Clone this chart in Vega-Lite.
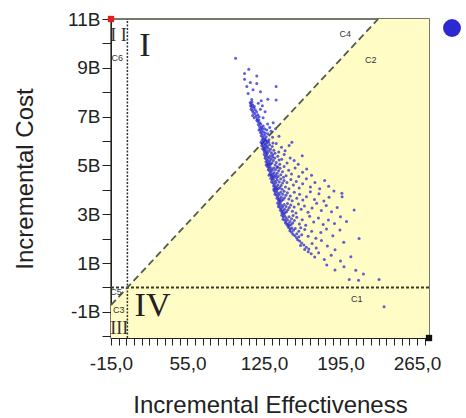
{
  "$schema": "https://vega.github.io/schema/vega-lite/v6.json",
  "width": 318,
  "height": 319,
  "autosize": {"type": "none"},
  "padding": {"left": 111, "top": 19, "right": 37, "bottom": 80},
  "background": "white",
  "config": {
    "view": {"stroke": "#4a4f3c", "strokeWidth": 1.5},
    "axis": {
      "labelFont": "Liberation Sans",
      "titleFont": "Liberation Sans",
      "labelFontSize": 19,
      "titleFontSize": 24,
      "titleFontWeight": "normal",
      "labelColor": "#222",
      "titleColor": "#222",
      "domainColor": "#222",
      "tickColor": "#222",
      "grid": false,
      "labelOverlap": false,
      "labelFlush": false,
      "labelBound": false
    }
  },
  "datasets": {
    "region": [
      {"x": -15, "y": -0.72},
      {"x": 229.5, "y": 11},
      {"x": 276, "y": 11}
    ],
    "pts": [
      {"x":99,"y":9.39},{"x":107.2,"y":8.77},{"x":111.1,"y":8.94},{"x":118.4,"y":8.66},{"x":107.2,"y":8.53},{"x":118.4,"y":8.36},{"x":109.3,"y":8.23},{"x":136.1,"y":8.23},{"x":121.8,"y":8.02},{"x":136.1,"y":7.68},{"x":128.5,"y":7.71},{"x":112.5,"y":8.4},{"x":115,"y":8.1},{"x":110.5,"y":7.95},
      {"x":112.4,"y":7.58},{"x":113.1,"y":7.52},{"x":114,"y":7.6},{"x":112.8,"y":7.45},{"x":113.6,"y":7.4},{"x":114.8,"y":7.48},{"x":115.5,"y":7.35},{"x":113.2,"y":7.3},{"x":114.3,"y":7.25},{"x":116.2,"y":7.42},{"x":117,"y":7.28},{"x":115.1,"y":7.18},{"x":116.5,"y":7.12},{"x":118.2,"y":7.2},{"x":114.6,"y":7.05},{"x":117.6,"y":7.02},{"x":119.3,"y":7.08},{"x":116,"y":6.95},{"x":118.8,"y":6.92},{"x":120.5,"y":7},{"x":121.7,"y":7.3},{"x":123.5,"y":7.45},{"x":126,"y":7.2},{"x":124.2,"y":6.95},{"x":113.8,"y":7.7},{"x":119.8,"y":7.55},{"x":122.5,"y":7.65},
      {"x":118.5,"y":6.85},{"x":119.4,"y":6.8},{"x":120.3,"y":6.86},{"x":121.1,"y":6.75},{"x":119.8,"y":6.68},{"x":120.9,"y":6.6},{"x":122,"y":6.7},{"x":122.8,"y":6.58},{"x":121.5,"y":6.5},{"x":120.4,"y":6.45},{"x":122.6,"y":6.42},{"x":123.5,"y":6.5},{"x":124.3,"y":6.62},{"x":121.8,"y":6.35},{"x":123.1,"y":6.3},{"x":124.5,"y":6.38},{"x":125.6,"y":6.5},{"x":122.4,"y":6.22},{"x":123.8,"y":6.16},{"x":125.1,"y":6.24},{"x":126.2,"y":6.32},{"x":127.5,"y":6.45},{"x":124.4,"y":6.08},{"x":125.9,"y":6.1},{"x":127,"y":6.18},{"x":128.6,"y":6.3},{"x":130.2,"y":6.55},{"x":131.5,"y":6.4},{"x":133.4,"y":6.75},{"x":135.6,"y":6.5},{"x":138.7,"y":6.2},{"x":129.5,"y":6.05},{"x":126.7,"y":6.02},{"x":123.2,"y":6.04},{"x":128.3,"y":6.7},{"x":132.8,"y":6.15},
      {"x":122.3,"y":5.95},{"x":123.4,"y":5.9},{"x":124.6,"y":5.97},{"x":125.5,"y":5.88},{"x":123,"y":5.82},{"x":124.2,"y":5.78},{"x":126.3,"y":5.85},{"x":127.4,"y":5.92},{"x":125.1,"y":5.72},{"x":126.6,"y":5.75},{"x":128,"y":5.8},{"x":123.7,"y":5.68},{"x":124.9,"y":5.62},{"x":126,"y":5.66},{"x":127.3,"y":5.6},{"x":128.8,"y":5.7},{"x":130.1,"y":5.85},{"x":125.4,"y":5.55},{"x":126.8,"y":5.52},{"x":128.1,"y":5.5},{"x":129.6,"y":5.58},{"x":131,"y":5.66},{"x":132.5,"y":5.78},{"x":134,"y":5.62},{"x":136.2,"y":5.9},{"x":138.5,"y":5.55},{"x":141,"y":5.75},{"x":144.3,"y":5.6},{"x":148,"y":5.82},{"x":150.5,"y":5.95},{"x":129.2,"y":5.95},{"x":131.8,"y":5.52},{"x":135.1,"y":5.5},{"x":127.8,"y":5.98},{"x":133.2,"y":5.92},
      {"x":125.2,"y":5.45},{"x":126.4,"y":5.38},{"x":127.5,"y":5.44},{"x":128.6,"y":5.35},{"x":126,"y":5.3},{"x":127.2,"y":5.25},{"x":128.4,"y":5.2},{"x":129.7,"y":5.3},{"x":130.8,"y":5.4},{"x":126.8,"y":5.15},{"x":128,"y":5.08},{"x":129.3,"y":5.12},{"x":130.5,"y":5.18},{"x":131.6,"y":5.26},{"x":132.9,"y":5.35},{"x":128.7,"y":5.02},{"x":130,"y":5.04},{"x":131.2,"y":5.06},{"x":132.4,"y":5.1},{"x":133.6,"y":5.2},{"x":134.9,"y":5.3},{"x":136.2,"y":5.12},{"x":137.6,"y":5.38},{"x":139.4,"y":5.05},{"x":141.2,"y":5.25},{"x":143.5,"y":5.45},{"x":146.1,"y":5.1},{"x":149,"y":5.3},{"x":152.6,"y":5.2},{"x":156.3,"y":5.05},{"x":160,"y":5.4},{"x":135.3,"y":5.02},{"x":133,"y":5.44},{"x":138.8,"y":5.22},{"x":127,"y":5.02},
      {"x":128.2,"y":4.96},{"x":129.4,"y":4.9},{"x":130.5,"y":4.95},{"x":131.6,"y":4.86},{"x":128.9,"y":4.82},{"x":130.1,"y":4.78},{"x":131.3,"y":4.72},{"x":132.6,"y":4.8},{"x":133.8,"y":4.9},{"x":130.4,"y":4.66},{"x":131.7,"y":4.6},{"x":133,"y":4.64},{"x":134.3,"y":4.7},{"x":135.5,"y":4.82},{"x":136.8,"y":4.92},{"x":131.9,"y":4.54},{"x":133.2,"y":4.52},{"x":134.5,"y":4.56},{"x":135.8,"y":4.6},{"x":137.1,"y":4.68},{"x":138.4,"y":4.78},{"x":139.7,"y":4.88},{"x":136.4,"y":4.5},{"x":138,"y":4.55},{"x":140.3,"y":4.62},{"x":141.9,"y":4.74},{"x":143.4,"y":4.96},{"x":145.2,"y":4.58},{"x":147.6,"y":4.8},{"x":150.2,"y":4.65},{"x":153.5,"y":4.9},{"x":156.8,"y":4.55},{"x":160.3,"y":4.72},{"x":164.1,"y":4.85},{"x":168.5,"y":4.6},{"x":129.6,"y":4.6},{"x":137.5,"y":4.95},{"x":142.8,"y":4.52},
      {"x":131.2,"y":4.46},{"x":132.4,"y":4.4},{"x":133.6,"y":4.45},{"x":134.8,"y":4.36},{"x":132,"y":4.32},{"x":133.3,"y":4.28},{"x":134.6,"y":4.22},{"x":135.9,"y":4.3},{"x":137.2,"y":4.4},{"x":133.8,"y":4.16},{"x":135.1,"y":4.1},{"x":136.4,"y":4.14},{"x":137.7,"y":4.2},{"x":139,"y":4.32},{"x":140.3,"y":4.44},{"x":135.5,"y":4.04},{"x":136.8,"y":4.02},{"x":138.1,"y":4.06},{"x":139.4,"y":4.1},{"x":140.7,"y":4.18},{"x":142,"y":4.28},{"x":143.3,"y":4.38},{"x":144.6,"y":4.12},{"x":146,"y":4.3},{"x":147.8,"y":4.05},{"x":149.6,"y":4.42},{"x":151.9,"y":4.2},{"x":154.5,"y":4.34},{"x":157.2,"y":4.08},{"x":160.4,"y":4.25},{"x":163.8,"y":4.45},{"x":167.5,"y":4.12},{"x":171.6,"y":4.3},{"x":176,"y":4.05},{"x":180.5,"y":4.38},{"x":184.2,"y":4.15},{"x":141.5,"y":4.02},{"x":134,"y":4.02},
      {"x":134.3,"y":3.96},{"x":135.5,"y":3.9},{"x":136.7,"y":3.95},{"x":137.9,"y":3.86},{"x":135.1,"y":3.82},{"x":136.4,"y":3.78},{"x":137.7,"y":3.72},{"x":139,"y":3.8},{"x":140.3,"y":3.9},{"x":136.9,"y":3.66},{"x":138.2,"y":3.6},{"x":139.5,"y":3.64},{"x":140.8,"y":3.7},{"x":142.1,"y":3.82},{"x":143.4,"y":3.94},{"x":138.6,"y":3.54},{"x":139.9,"y":3.52},{"x":141.2,"y":3.56},{"x":142.5,"y":3.6},{"x":143.8,"y":3.68},{"x":145.1,"y":3.78},{"x":146.4,"y":3.88},{"x":147.7,"y":3.62},{"x":149.1,"y":3.75},{"x":150.8,"y":3.55},{"x":152.7,"y":3.9},{"x":155,"y":3.66},{"x":157.6,"y":3.82},{"x":160.5,"y":3.58},{"x":163.9,"y":3.72},{"x":167.4,"y":3.92},{"x":171.2,"y":3.6},{"x":175.3,"y":3.84},{"x":179.8,"y":3.54},{"x":184.5,"y":3.7},{"x":189,"y":3.95},{"x":196.3,"y":3.86},{"x":196.5,"y":3.72},
      {"x":137.4,"y":3.46},{"x":138.6,"y":3.4},{"x":139.8,"y":3.45},{"x":141,"y":3.36},{"x":138.2,"y":3.32},{"x":139.5,"y":3.28},{"x":140.8,"y":3.22},{"x":142.1,"y":3.3},{"x":143.4,"y":3.4},{"x":140,"y":3.16},{"x":141.3,"y":3.1},{"x":142.6,"y":3.14},{"x":143.9,"y":3.2},{"x":145.2,"y":3.32},{"x":146.5,"y":3.44},{"x":141.7,"y":3.04},{"x":143,"y":3.02},{"x":144.3,"y":3.06},{"x":145.6,"y":3.1},{"x":146.9,"y":3.18},{"x":148.2,"y":3.28},{"x":149.5,"y":3.38},{"x":151,"y":3.12},{"x":152.6,"y":3.3},{"x":154.3,"y":3.05},{"x":156.5,"y":3.42},{"x":159,"y":3.2},{"x":162,"y":3.34},{"x":165.3,"y":3.08},{"x":169,"y":3.26},{"x":173.2,"y":3.45},{"x":177.5,"y":3.15},{"x":182,"y":3.36},{"x":186.8,"y":3.1},{"x":192,"y":3.28},{"x":207.5,"y":3.17},
      {"x":141.3,"y":2.96},{"x":142.6,"y":2.9},{"x":143.9,"y":2.94},{"x":145.2,"y":2.86},{"x":142.4,"y":2.8},{"x":143.8,"y":2.76},{"x":145.1,"y":2.7},{"x":146.5,"y":2.78},{"x":147.9,"y":2.9},{"x":144.6,"y":2.64},{"x":146,"y":2.58},{"x":147.4,"y":2.62},{"x":148.8,"y":2.7},{"x":150.2,"y":2.82},{"x":151.6,"y":2.95},{"x":146.8,"y":2.52},{"x":148.3,"y":2.54},{"x":149.8,"y":2.58},{"x":151.3,"y":2.64},{"x":152.8,"y":2.74},{"x":155,"y":2.88},{"x":157.4,"y":2.6},{"x":160,"y":2.78},{"x":163.2,"y":2.55},{"x":166.8,"y":2.92},{"x":170.5,"y":2.68},{"x":174.8,"y":2.85},{"x":179.2,"y":2.58},{"x":184,"y":2.76},{"x":189.5,"y":2.62},{"x":195,"y":2.9},{"x":200.5,"y":2.7},
      {"x":147.6,"y":2.46},{"x":149,"y":2.4},{"x":150.5,"y":2.44},{"x":148.7,"y":2.32},{"x":150.3,"y":2.26},{"x":152,"y":2.34},{"x":153.6,"y":2.42},{"x":151.5,"y":2.18},{"x":153.2,"y":2.12},{"x":155,"y":2.2},{"x":156.8,"y":2.3},{"x":158.6,"y":2.45},{"x":154.8,"y":2.04},{"x":157,"y":2.08},{"x":159.5,"y":2.16},{"x":162.3,"y":2.38},{"x":165.4,"y":2.1},{"x":168.6,"y":2.3},{"x":172.5,"y":2.02},{"x":177,"y":2.25},{"x":182.2,"y":2.4},{"x":188,"y":2.12},{"x":194.5,"y":2.35},{"x":212,"y":2.01},
      {"x":155.8,"y":1.96},{"x":157.6,"y":1.9},{"x":159.5,"y":1.82},{"x":161.5,"y":1.74},{"x":158.4,"y":1.72},{"x":163.7,"y":1.65},{"x":166,"y":1.58},{"x":162.2,"y":1.56},{"x":169,"y":1.8},{"x":172.8,"y":1.62},{"x":177.6,"y":1.92},{"x":183,"y":1.7},{"x":190,"y":1.55},{"x":198,"y":1.85},
      {"x":165.5,"y":1.46},{"x":168.2,"y":1.38},{"x":171.4,"y":1.25},{"x":175,"y":1.42},{"x":180.2,"y":1.15},{"x":186.5,"y":1.32},{"x":195,"y":1.08},{"x":204.5,"y":1.26},
      {"x":182.5,"y":0.92},{"x":190,"y":0.72},{"x":198.2,"y":0.85},{"x":209,"y":0.71},{"x":203,"y":0.33},{"x":211.5,"y":0.3},{"x":230.3,"y":0.33},{"x":216,"y":0.55},{"x":234.9,"y":-0.79}
    ],
    "bigRoman": [
      {"x": 16, "y": 9.91, "t": "I"},
      {"x": 23, "y": -0.74, "t": "IV"}
    ],
    "smallRoman": [
      {"x": -8.2, "y": 10.32, "t": "I I"},
      {"x": -7.4, "y": -1.7, "t": "III"}
    ],
    "cLabels": [
      {"x": -9.3, "y": 9.42, "t": "C6"},
      {"x": -10.4, "y": -0.2, "t": "C5"},
      {"x": -7.9, "y": -0.93, "t": "C3"},
      {"x": 209.8, "y": -0.48, "t": "C1"},
      {"x": 199.3, "y": 10.39, "t": "C4"},
      {"x": 222.6, "y": 9.34, "t": "C2"}
    ],
    "vline": [{"x": 0, "x2": 0, "y": -2.07, "y2": 11}],
    "hline": [{"x": -15, "x2": 276, "y": 0, "y2": 0}],
    "diag": [{"x": -15, "y": -0.72, "x2": 229.5, "y2": 11}],
    "tl": [{"x": -15, "y": 11}],
    "br": [{"x": 276, "y": -2.07}]
  },
  "encoding": {
    "x": {
      "field": "x", "type": "quantitative",
      "scale": {"domain": [-15, 276], "nice": false, "zero": false},
      "axis": {
        "title": "Incremental Effectiveness",
        "values": [-15,-8,-1,6,13,20,27,34,41,48,55,62,69,76,83,90,97,104,111,118,125,132,139,146,153,160,167,174,181,188,195,202,209,216,223,230,237,244,251,258,265,272],
        "labelExpr": "(datum.value + 15) % 70 == 0 ? datum.value + ',0' : ''",
        "tickSize": 7,
        "labelPadding": 9,
        "titlePadding": 20
      }
    },
    "y": {
      "field": "y", "type": "quantitative",
      "scale": {"domain": [-2.07, 11], "nice": false, "zero": false},
      "axis": {
        "title": "Incremental Cost",
        "values": [-2,-1,0,1,2,3,4,5,6,7,8,9,10,11],
        "labelExpr": "datum.value % 2 != 0 ? datum.value + 'B' : ''",
        "tickSize": 9,
        "labelPadding": 2,
        "titlePadding": 30
      }
    }
  },
  "layer": [
    {
      "data": {"name": "region"},
      "mark": {"type": "area", "color": "#fffcc6", "opacity": 1},
      "encoding": {"y2": {"datum": -2.07}}
    },
    {
      "data": {"name": "vline"},
      "mark": {"type": "rule", "color": "#333", "strokeWidth": 1.5, "strokeDash": [2, 1.5]},
      "encoding": {"x2": {"field": "x2"}, "y2": {"field": "y2"}}
    },
    {
      "data": {"name": "hline"},
      "mark": {"type": "rule", "color": "#3a3a2a", "strokeWidth": 1.8, "strokeDash": [3, 2]},
      "encoding": {"x2": {"field": "x2"}, "y2": {"field": "y2"}}
    },
    {
      "data": {"name": "diag"},
      "mark": {"type": "rule", "color": "#555a48", "strokeWidth": 1.8, "strokeDash": [7, 4]},
      "encoding": {"x2": {"field": "x2"}, "y2": {"field": "y2"}}
    },
    {
      "data": {"name": "pts"},
      "mark": {"type": "point", "filled": true, "size": 9, "opacity": 0.75},
      "encoding": {
        "color": {
          "datum": "s",
          "scale": {"range": ["#2a2ad0"]},
          "legend": {
            "title": null,
            "orient": "right",
            "offset": 14,
            "padding": 0,
            "symbolType": "circle",
            "symbolSize": 320,
            "symbolOpacity": 1,
            "symbolFillColor": "#0000ff",
            "symbolStrokeWidth": 0,
            "labelExpr": "''",
            "encode": {"symbols": {"update": {"fill": {"value": "#0000ff"}, "opacity": {"value": 1}, "fillOpacity": {"value": 1}}}}
          }
        }
      }
    },
    {
      "data": {"name": "bigRoman"},
      "mark": {"type": "text", "font": "Liberation Serif", "fontSize": 34, "color": "#222", "baseline": "middle", "align": "center"},
      "encoding": {"text": {"field": "t"}}
    },
    {
      "data": {"name": "smallRoman"},
      "mark": {"type": "text", "font": "Liberation Serif", "fontSize": 18, "color": "#333", "baseline": "middle", "align": "center"},
      "encoding": {"text": {"field": "t"}}
    },
    {
      "data": {"name": "cLabels"},
      "mark": {"type": "text", "font": "Liberation Sans", "fontSize": 9, "color": "#333", "baseline": "middle", "align": "center"},
      "encoding": {"text": {"field": "t"}}
    },
    {
      "data": {"name": "tl"},
      "mark": {"type": "square", "color": "#e02020", "size": 40, "opacity": 1}
    },
    {
      "data": {"name": "br"},
      "mark": {"type": "square", "color": "#111", "size": 40, "opacity": 1}
    }
  ]
}
